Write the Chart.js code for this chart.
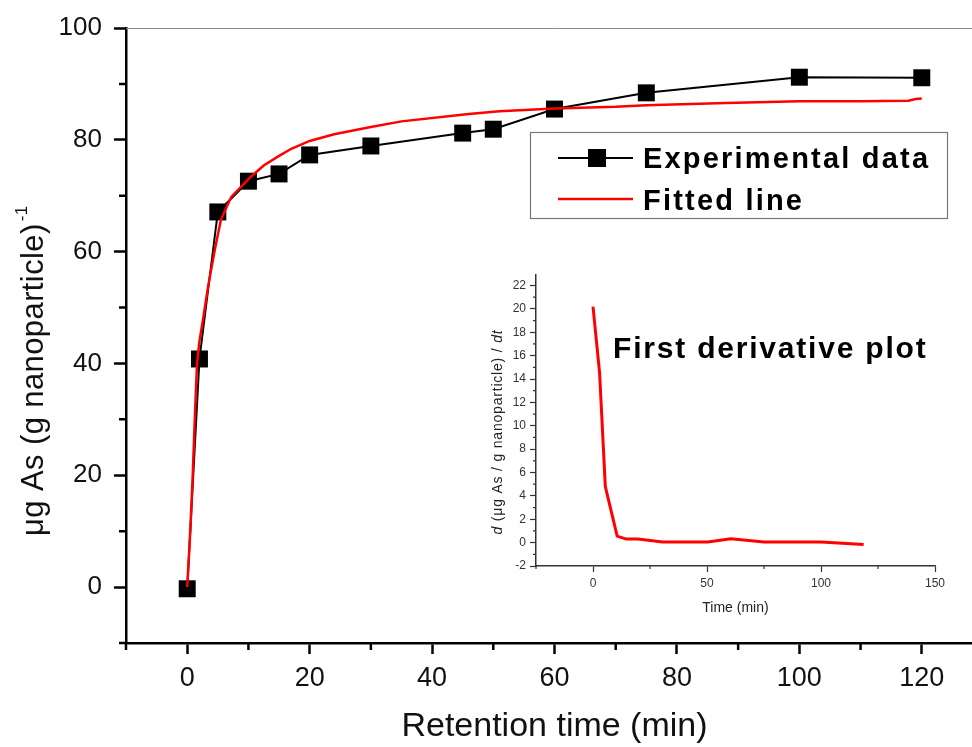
<!DOCTYPE html>
<html>
<head>
<meta charset="utf-8">
<title>Arsenic uptake vs retention time</title>
<script src="https://cdn.jsdelivr.net/npm/chart.js@4.4.1/dist/chart.umd.min.js"></script>
<style>
  html, body { margin: 0; padding: 0; background: #fff; overflow: hidden; width: 972px; height: 747px; }
  #wrap { position: relative; width: 972px; height: 747px; overflow: hidden; }
  #mainChart { position: absolute; left: 0; top: 0; }
  #insetChart { position: absolute; left: 470px; top: 260px; }
</style>
</head>
<body>
<div id="wrap">
  <canvas id="mainChart" width="1000" height="747"></canvas>
  <canvas id="insetChart" width="480" height="360"></canvas>
</div>
<script>
// experimental uptake, µg As per g nanoparticle
const expTime = [0, 2, 5, 10, 15, 20, 30, 45, 50, 60, 75, 100, 120];
const expUptake = [-0.3, 40.8, 67.1, 72.6, 73.9, 77.3, 78.9, 81.2, 81.9, 85.5, 88.4, 91.2, 91.1];

// fitted curve
const fitTime = [0, 0.5, 0.9, 1.2, 1.6, 2, 2.6, 3.4, 4.5, 5.5, 7.2, 10.4, 12.5, 14.8, 17, 20, 24, 30, 35, 46, 51, 60, 70, 75, 88, 100, 110, 117.8, 119, 120];
const fitUptake = [0, 10, 20, 29, 40, 44, 48, 53.7, 60.3, 65.7, 69.8, 73.4, 75.4, 77, 78.4, 79.8, 81, 82.3, 83.3, 84.6, 85.1, 85.6, 85.9, 86.2, 86.6, 86.9, 86.9, 87, 87.3, 87.4];

// inset: first derivative
const derivTime = [0, 2.9, 5.4, 10.6, 14.6, 19.7, 30.6, 50.3, 60.5, 75, 100, 118.7];
const derivValue = [20.2, 14.5, 4.8, 0.56, 0.3, 0.3, 0.05, 0.05, 0.33, 0.05, 0.05, -0.15];

// labelled (major) ticks
const mainXTicks = [0, 20, 40, 60, 80, 100, 120];
const mainYTicks = [0, 20, 40, 60, 80, 100];
const insetXTicks = [0, 50, 100, 150];
const insetYTicks = [-2, 0, 2, 4, 6, 8, 10, 12, 14, 16, 18, 20, 22];

const FONT = '"Liberation Sans", Arial, Helvetica, sans-serif';
Chart.defaults.font.family = FONT;

const toPoints = (xs, ys) => xs.map((x, i) => ({ x: x, y: ys[i] }));

// short unlabelled ticks between the major ones
const minorTicks = {
  id: 'minorTicks',
  afterDraw(chart, args, opts) {
    const { ctx, chartArea, scales } = chart;
    ctx.save();
    ctx.strokeStyle = opts.color;
    ctx.lineWidth = opts.width;
    ctx.beginPath();
    scales.x.ticks.forEach(t => {
      if (opts.xMajor.includes(t.value)) return;
      const px = scales.x.getPixelForValue(t.value);
      ctx.moveTo(px, chartArea.bottom);
      ctx.lineTo(px, chartArea.bottom + opts.len);
    });
    scales.y.ticks.forEach(t => {
      if (opts.yMajor.includes(t.value)) return;
      const py = scales.y.getPixelForValue(t.value);
      ctx.moveTo(chartArea.left, py);
      ctx.lineTo(chartArea.left - opts.len, py);
    });
    ctx.stroke();
    ctx.restore();
  }
};

const mainDecor = {
  id: 'mainDecor',
  afterDraw(chart) {
    const { ctx, chartArea } = chart;
    ctx.save();
    // thin frame line along the top
    ctx.strokeStyle = '#8a8a8a';
    ctx.lineWidth = 1;
    ctx.beginPath();
    ctx.moveTo(chartArea.left, chartArea.top + 0.5);
    ctx.lineTo(chartArea.right, chartArea.top + 0.5);
    ctx.stroke();

    // y axis title with superscript
    ctx.translate(43, 536);
    ctx.rotate(-Math.PI / 2);
    ctx.fillStyle = '#111';
    ctx.textAlign = 'left';
    ctx.textBaseline = 'alphabetic';
    ctx.font = '31px ' + FONT;
    ctx.letterSpacing = '0.4px';
    const main = 'μg As (g nanoparticle)';
    ctx.fillText(main, 0, 0);
    const w = ctx.measureText(main).width;
    ctx.font = '17px ' + FONT;
    ctx.fillText('-1', w + 2, -16);
    ctx.letterSpacing = '0px';
    ctx.restore();

    // boxed legend
    const ds = chart.data.datasets;
    ctx.save();
    ctx.fillStyle = '#fff';
    ctx.fillRect(530, 132, 417, 86);
    ctx.strokeStyle = '#777';
    ctx.lineWidth = 1.2;
    ctx.strokeRect(530.5, 132.5, 417, 86);
    const rows = [{ line: 158, text: 168 }, { line: 199, text: 210 }];
    ds.forEach((d, i) => {
      const r = rows[i];
      ctx.strokeStyle = d.borderColor;
      ctx.lineWidth = d.borderWidth;
      ctx.beginPath();
      ctx.moveTo(558, r.line);
      ctx.lineTo(633, r.line);
      ctx.stroke();
      if (d.pointStyle === 'rect') {
        ctx.fillStyle = d.backgroundColor;
        ctx.fillRect(588, r.line - 9, 18, 18);
      }
      ctx.fillStyle = '#000';
      ctx.font = 'bold 29px ' + FONT;
      ctx.letterSpacing = '2.2px';
      ctx.textAlign = 'left';
      ctx.textBaseline = 'alphabetic';
      ctx.fillText(d.label, 643, r.text);
      ctx.letterSpacing = '0px';
    });
    ctx.restore();
  }
};

const mainChart = new Chart(document.getElementById('mainChart'), {
  type: 'line',
  data: {
    datasets: [
      {
        label: 'Experimental data',
        data: toPoints(expTime, expUptake),
        borderColor: '#000',
        backgroundColor: '#000',
        borderWidth: 2,
        pointStyle: 'rect',
        pointRadius: 12,
        pointHoverRadius: 12,
        pointBorderWidth: 0,
        tension: 0,
        order: 2
      },
      {
        label: 'Fitted line',
        data: toPoints(fitTime, fitUptake),
        borderColor: '#f00',
        backgroundColor: '#f00',
        borderWidth: 2.5,
        pointRadius: 0,
        tension: 0,
        order: 1
      }
    ]
  },
  options: {
    responsive: false,
    animation: false,
    devicePixelRatio: 1,
    layout: { padding: { top: 28, right: 17, left: 0, bottom: 0 } },
    plugins: {
      legend: { display: false },
      tooltip: { enabled: false },
      minorTicks: { xMajor: mainXTicks, yMajor: mainYTicks, len: 7, width: 2.5, color: '#000' }
    },
    scales: {
      x: {
        type: 'linear',
        min: -10,
        max: 130,
        afterFit(s) { s.height = 104; },
        border: { color: '#000', width: 2.5 },
        grid: {
          drawOnChartArea: false,
          tickLength: 11,
          tickWidth: 2.5,
          tickColor: c => mainXTicks.includes(c.tick.value) ? '#000' : 'rgba(0,0,0,0)'
        },
        ticks: {
          stepSize: 10,
          autoSkip: false,
          maxRotation: 0,
          padding: 8,
          color: '#111',
          font: { size: 27 },
          callback: v => mainXTicks.includes(v) ? String(v) : ''
        },
        title: {
          display: true,
          text: 'Retention time (min)',
          color: '#111',
          font: { size: 34 },
          padding: { top: 0, bottom: 0 }
        }
      },
      y: {
        min: -10,
        max: 100,
        afterFit(s) { s.width = 126; },
        border: { color: '#000', width: 2.5 },
        grid: {
          drawOnChartArea: false,
          tickLength: 12,
          tickWidth: 2.5,
          tickColor: c => mainYTicks.includes(c.tick.value) ? '#000' : 'rgba(0,0,0,0)'
        },
        ticks: {
          stepSize: 10,
          autoSkip: false,
          padding: 12,
          color: '#111',
          font: { size: 26 },
          callback: v => mainYTicks.includes(v) ? String(v) : ''
        }
      }
    }
  },
  plugins: [minorTicks, mainDecor]
});

const insetDecor = {
  id: 'insetDecor',
  afterDraw(chart) {
    const { ctx } = chart;
    ctx.save();
    // annotation
    ctx.fillStyle = '#000';
    ctx.font = 'bold 30px ' + FONT;
    ctx.letterSpacing = '1.8px';
    ctx.textAlign = 'left';
    ctx.textBaseline = 'alphabetic';
    ctx.fillText('First derivative plot', 143, 98);
    ctx.letterSpacing = '0px';

    // rotated y title, italic d and dt
    const parts = [
      { t: 'd', f: 'italic 14px ' + FONT },
      { t: ' (μg As / g nanoparticle) / ', f: '14px ' + FONT },
      { t: 'dt', f: 'italic 14px ' + FONT }
    ];
    ctx.letterSpacing = '0.8px';
    let total = 0;
    parts.forEach(p => { ctx.font = p.f; p.w = ctx.measureText(p.t).width; total += p.w; });
    ctx.translate(32, 172 + total / 2);
    ctx.rotate(-Math.PI / 2);
    ctx.fillStyle = '#222';
    let x = 0;
    parts.forEach(p => { ctx.font = p.f; ctx.fillText(p.t, x, 0); x += p.w; });
    ctx.restore();
  }
};

const insetChart = new Chart(document.getElementById('insetChart'), {
  type: 'line',
  data: {
    datasets: [{
      label: 'First derivative',
      data: toPoints(derivTime, derivValue),
      borderColor: '#f00',
      borderWidth: 3,
      pointRadius: 0,
      tension: 0
    }]
  },
  options: {
    responsive: false,
    animation: false,
    devicePixelRatio: 1,
    layout: { padding: { top: 15, right: 15, left: 0, bottom: 0 } },
    plugins: {
      legend: { display: false },
      tooltip: { enabled: false },
      minorTicks: { xMajor: insetXTicks, yMajor: insetYTicks, len: 3, width: 1.2, color: '#333' }
    },
    scales: {
      x: {
        type: 'linear',
        min: -25,
        max: 150,
        afterFit(s) { s.height = 54; },
        border: { color: '#333', width: 1.5 },
        grid: {
          drawOnChartArea: false,
          tickLength: 6,
          tickWidth: 1.2,
          tickColor: c => insetXTicks.includes(c.tick.value) ? '#333' : 'rgba(0,0,0,0)'
        },
        ticks: {
          stepSize: 25,
          autoSkip: false,
          maxRotation: 0,
          padding: 4,
          color: '#333',
          font: { size: 12 },
          callback: v => insetXTicks.includes(v) ? String(v) : ''
        },
        title: {
          display: true,
          text: 'Time (min)',
          color: '#222',
          font: { size: 14 },
          padding: { top: 0, bottom: 3 }
        }
      },
      y: {
        min: -2,
        max: 22.9,
        afterFit(s) { s.width = 66; },
        border: { color: '#333', width: 1.5 },
        grid: {
          drawOnChartArea: false,
          tickLength: 6,
          tickWidth: 1.2,
          tickColor: c => insetYTicks.includes(c.tick.value) ? '#333' : 'rgba(0,0,0,0)'
        },
        ticks: {
          stepSize: 1,
          includeBounds: false,
          autoSkip: false,
          padding: 4,
          color: '#333',
          font: { size: 12 },
          callback: v => insetYTicks.includes(v) ? String(v) : ''
        }
      }
    }
  },
  plugins: [minorTicks, insetDecor]
});
</script>
</body>
</html>
